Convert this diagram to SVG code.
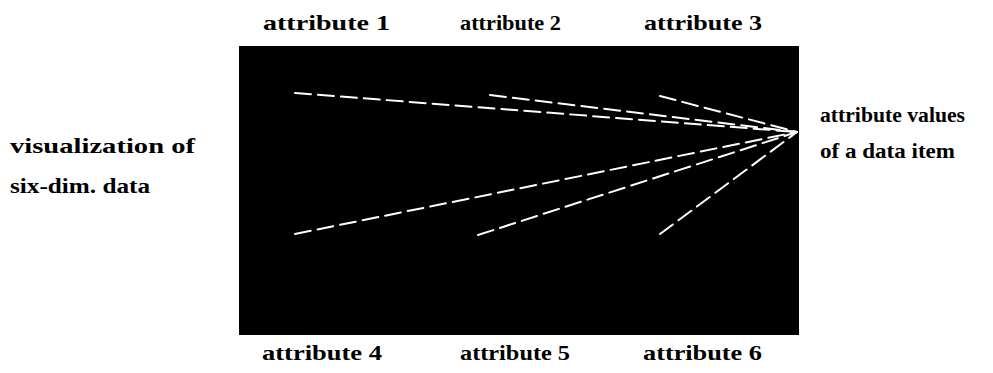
<svg xmlns="http://www.w3.org/2000/svg" width="993" height="373" viewBox="0 0 993 373">
<style>
.lbl{font-family:"Liberation Serif","Times New Roman",serif;font-weight:bold;font-size:22px;fill:#000}
.ray{stroke:#fff;stroke-width:2;fill:none;stroke-dasharray:16 7;stroke-linecap:round}
</style>
<rect width="993" height="373" fill="#fff"/>
<g id="panel">
<rect x="239" y="46" width="560" height="289" fill="#000"/>
</g>
<g id="connectors">
<line class="ray" x1="295" y1="93" x2="797" y2="132"/>
<line class="ray" x1="490" y1="95" x2="797" y2="132"/>
<line class="ray" x1="660" y1="96" x2="797" y2="132"/>
<line class="ray" x1="295" y1="234" x2="797" y2="132"/>
<line class="ray" x1="478" y1="235" x2="797" y2="132"/>
<line class="ray" x1="660" y1="234" x2="797" y2="132"/>
</g>
<g id="attr1"><text class="lbl" x="263" y="30" textLength="127" lengthAdjust="spacingAndGlyphs">attribute 1</text></g>
<g id="attr2"><text class="lbl" x="460" y="30" textLength="101" lengthAdjust="spacingAndGlyphs">attribute 2</text></g>
<g id="attr3"><text class="lbl" x="644" y="30" textLength="118" lengthAdjust="spacingAndGlyphs">attribute 3</text></g>
<g id="attr4"><text class="lbl" x="262" y="360" textLength="120" lengthAdjust="spacingAndGlyphs">attribute 4</text></g>
<g id="attr5"><text class="lbl" x="460" y="360" textLength="110" lengthAdjust="spacingAndGlyphs">attribute 5</text></g>
<g id="attr6"><text class="lbl" x="643" y="360" textLength="119" lengthAdjust="spacingAndGlyphs">attribute 6</text></g>
<g id="left-caption">
<text class="lbl" x="10" y="153" textLength="185" lengthAdjust="spacingAndGlyphs">visualization of</text>
<text class="lbl" x="10" y="193" textLength="140" lengthAdjust="spacingAndGlyphs">six-dim. data</text>
</g>
<g id="right-caption">
<text class="lbl" x="820" y="122" textLength="145" lengthAdjust="spacingAndGlyphs">attribute values</text>
<text class="lbl" x="820" y="158" textLength="135" lengthAdjust="spacingAndGlyphs">of a data item</text>
</g>
</svg>
